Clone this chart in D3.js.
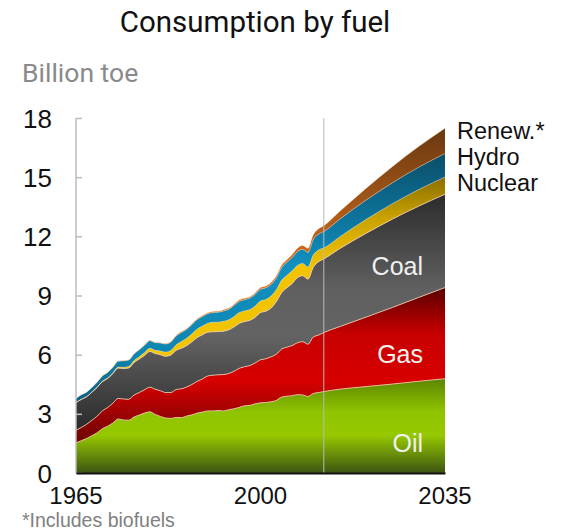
<!DOCTYPE html>
<html><head><meta charset="utf-8">
<script src="https://cdn.jsdelivr.net/npm/d3@7/dist/d3.min.js"></script>
<style>
html,body{margin:0;padding:0;background:#fff;}
svg{display:block;}
text{font-family:"Liberation Sans",Arial,sans-serif;}
</style></head>
<body>
<svg id="chart" width="563" height="531"></svg>
<script>
// ---- data (billion tonnes oil equivalent) ----
const years = [1965,1966,1967,1968,1969,1970,1971,1972,1973,1974,1975,1976,1977,1978,1979,
  1980,1981,1982,1983,1984,1985,1986,1987,1988,1989,1990,1991,1992,1993,1994,1995,1996,1997,
  1998,1999,2000,2001,2002,2003,2004,2005,2006,2007,2008,2009,2010,2011,2012,
  2015,2020,2025,2030,2035];
const oil = [1.53,1.64,1.75,1.89,2.04,2.25,2.37,2.54,2.74,2.69,2.68,2.84,2.94,3.04,3.10,
  2.97,2.87,2.79,2.77,2.82,2.81,2.89,2.95,3.04,3.09,3.15,3.15,3.17,3.15,3.21,3.26,3.33,3.41,
  3.43,3.51,3.56,3.58,3.61,3.68,3.85,3.89,3.92,3.97,3.96,3.88,4.03,4.08,4.13,
  4.25,4.38,4.51,4.65,4.78];
const gas = [0.63,0.67,0.72,0.78,0.84,0.90,0.95,1.00,1.04,1.06,1.06,1.11,1.14,1.18,1.25,
  1.28,1.30,1.29,1.31,1.41,1.46,1.47,1.54,1.61,1.68,1.77,1.81,1.81,1.84,1.84,1.90,1.98,1.98,
  2.02,2.07,2.18,2.21,2.28,2.34,2.43,2.49,2.54,2.63,2.70,2.65,2.86,2.91,2.99,
  3.17,3.52,3.88,4.25,4.62];
const coal = [1.40,1.42,1.39,1.42,1.46,1.48,1.47,1.50,1.54,1.55,1.58,1.65,1.70,1.74,1.81,
  1.81,1.83,1.84,1.90,1.99,2.06,2.10,2.17,2.22,2.24,2.22,2.20,2.19,2.20,2.21,2.25,2.28,2.29,
  2.29,2.32,2.40,2.41,2.47,2.67,2.86,3.01,3.15,3.30,3.34,3.30,3.53,3.72,3.73,
  3.95,4.25,4.48,4.63,4.73];
const nuclear = [0.01,0.01,0.01,0.01,0.01,0.02,0.03,0.03,0.05,0.06,0.08,0.10,0.12,0.15,0.16,
  0.16,0.19,0.21,0.23,0.28,0.34,0.37,0.40,0.43,0.44,0.45,0.48,0.48,0.50,0.51,0.53,0.55,0.54,
  0.55,0.57,0.58,0.60,0.61,0.60,0.63,0.63,0.64,0.62,0.62,0.61,0.63,0.60,0.56,
  0.60,0.70,0.78,0.84,0.88];
const hydro = [0.21,0.23,0.23,0.24,0.25,0.27,0.28,0.29,0.30,0.33,0.33,0.34,0.35,0.37,0.39,
  0.39,0.40,0.41,0.43,0.45,0.46,0.46,0.47,0.48,0.48,0.49,0.50,0.50,0.53,0.53,0.56,0.57,0.57,
  0.58,0.59,0.60,0.59,0.59,0.60,0.64,0.66,0.68,0.70,0.72,0.74,0.78,0.80,0.83,
  0.89,0.98,1.06,1.13,1.19];
const renew = [0.00,0.00,0.00,0.00,0.01,0.01,0.01,0.01,0.01,0.01,0.01,0.01,0.01,0.02,0.02,
  0.02,0.02,0.03,0.03,0.03,0.04,0.04,0.04,0.04,0.05,0.05,0.05,0.05,0.06,0.06,0.06,0.07,0.07,
  0.07,0.08,0.08,0.09,0.10,0.11,0.12,0.13,0.15,0.17,0.19,0.21,0.24,0.27,0.30,
  0.40,0.60,0.82,1.05,1.28];
const yTicks = [0,3,6,9,12,15,18];
const xTicks = [1965,2000,2035];
const historyEnd = 2012;

const series = [
  {key:"oil", label:"Oil", values:oil},
  {key:"gas", label:"Gas", values:gas},
  {key:"coal", label:"Coal", values:coal},
  {key:"nuclear", label:"Nuclear", values:nuclear},
  {key:"hydro", label:"Hydro", values:hydro},
  {key:"renew", label:"Renew.*", values:renew}
];

const table = years.map((y,i)=>{
  const row = {year:y};
  series.forEach(s=>row[s.key]=s.values[i]);
  return row;
});

// ---- layout ----
const svg = d3.select("#chart");
const x = d3.scaleLinear().domain([1965,2035]).range([76,445]);
const y = d3.scaleLinear().domain([0,18]).range([473,118]);

const gradients = {
  oil:[[0,"#5c8600"],[0.35,"#8fc400"],[0.6,"#96c800"],[1,"#3c5512"]],
  gas:[[0,"#5a0000"],[0.3,"#c80000"],[0.6,"#d80000"],[1,"#6a0505"]],
  coal:[[0,"#2c2c2c"],[0.4,"#606060"],[0.6,"#636363"],[1,"#2a2a2a"]],
  nuclear:[[0,"#8a6e00"],[0.18,"#c9a200"],[0.4,"#f2c300"],[1,"#f3c400"]],
  hydro:[[0,"#0b4e68"],[0.25,"#0d729a"],[0.45,"#1190c0"],[0.8,"#0f86b2"],[1,"#0c5e80"]],
  renew:[[0,"#6a3810"],[0.25,"#9c5418"],[0.5,"#d8681c"],[1,"#ee7722"]]
};
const defs = svg.append("defs");
Object.entries(gradients).forEach(([k,stops])=>{
  const g = defs.append("linearGradient").attr("id","g-"+k)
    .attr("x1",0).attr("y1",0).attr("x2",0).attr("y2",1);
  stops.forEach(([o,c])=>g.append("stop").attr("offset",o).attr("stop-color",c));
});

const stack = d3.stack().keys(series.map(s=>s.key));
const layers = stack(table);

const area = d3.area()
  .x(d=>x(d.data.year)).y0(d=>y(d[0])).y1(d=>y(d[1]))
  .curve(d3.curveMonotoneX);
const topLine = d3.line()
  .x(d=>x(d.data.year)).y(d=>y(d[1]))
  .curve(d3.curveMonotoneX);

svg.append("g").selectAll("path").data(layers).join("path")
  .attr("d",area).attr("fill",d=>`url(#g-${d.key})`);

svg.append("g").selectAll("path").data(layers.slice(0,3)).join("path")
  .attr("d",topLine).attr("fill","none")
  .attr("stroke","#f2cdb0").attr("stroke-width",1).attr("stroke-opacity",0.8);
svg.append("g").selectAll("path").data(layers.slice(3)).join("path")
  .attr("d",topLine).attr("fill","none")
  .attr("stroke","#ffe9c8").attr("stroke-width",0.8).attr("stroke-opacity",0.45);

// history / projection divider
svg.append("line")
  .attr("x1",x(historyEnd)).attr("x2",x(historyEnd))
  .attr("y1",y(18)).attr("y2",y(0))
  .attr("stroke","#b8b8b8").attr("stroke-width",1.2).attr("stroke-opacity",0.85);

// y axis
const yAxis = svg.append("g").attr("transform",`translate(${x(1965)},0)`)
  .call(d3.axisRight(y).tickValues(yTicks).tickSize(6).tickFormat(""));
yAxis.select(".domain").attr("stroke","#bdbdbd").attr("stroke-width",1.5).attr("d",`M0,${y(18)}V${y(0)}`);
yAxis.selectAll(".tick line").attr("stroke","#bdbdbd").attr("stroke-width",1.5);

svg.append("g").selectAll("text").data(yTicks).join("text")
  .attr("x",52).attr("y",d=>y(d)+9.5).attr("text-anchor","end")
  .attr("font-size",26).attr("fill","#111").text(d=>d);

// x axis
const xAxis = svg.append("g").attr("transform",`translate(0,${y(0)})`)
  .call(d3.axisBottom(x).tickValues(xTicks).tickSize(0).tickFormat(""));
xAxis.select(".domain").attr("stroke","#111").attr("stroke-width",2);

svg.append("g").selectAll("text").data(xTicks).join("text")
  .attr("x",d=>x(d)).attr("y",503.5).attr("text-anchor","middle")
  .attr("font-size",24).attr("fill","#111").text(d=>d);

// titles
svg.append("text").attr("x",255).attr("y",32).attr("text-anchor","middle")
  .style("font-family","Roboto, 'Liberation Sans', sans-serif")
  .attr("font-size",29.5).attr("fill","#111").text("Consumption by fuel");
svg.append("text").attr("x",22).attr("y",82)
  .style("font-family","Roboto, 'Liberation Sans', sans-serif")
  .attr("font-size",26.5).attr("fill","#8a8a8a").text("Billion toe");
svg.append("text").attr("x",22).attr("y",526.5)
  .attr("font-size",19.5).attr("fill","#808080").text("*Includes biofuels");

// series labels
const inner = [{k:"coal",yb:275},{k:"gas",yb:363},{k:"oil",yb:452}];
svg.append("g").selectAll("text").data(inner).join("text")
  .attr("x",423).attr("y",d=>d.yb).attr("text-anchor","end")
  .attr("font-size",25).attr("fill","#f0f0f0")
  .text(d=>series.find(s=>s.key===d.k).label);
const outer = [{k:"renew",yb:139},{k:"hydro",yb:165},{k:"nuclear",yb:191}];
svg.append("g").selectAll("text").data(outer).join("text")
  .attr("x",457).attr("y",d=>d.yb)
  .attr("font-size",23.5).attr("fill","#111")
  .text(d=>series.find(s=>s.key===d.k).label);
</script>
</body></html>
